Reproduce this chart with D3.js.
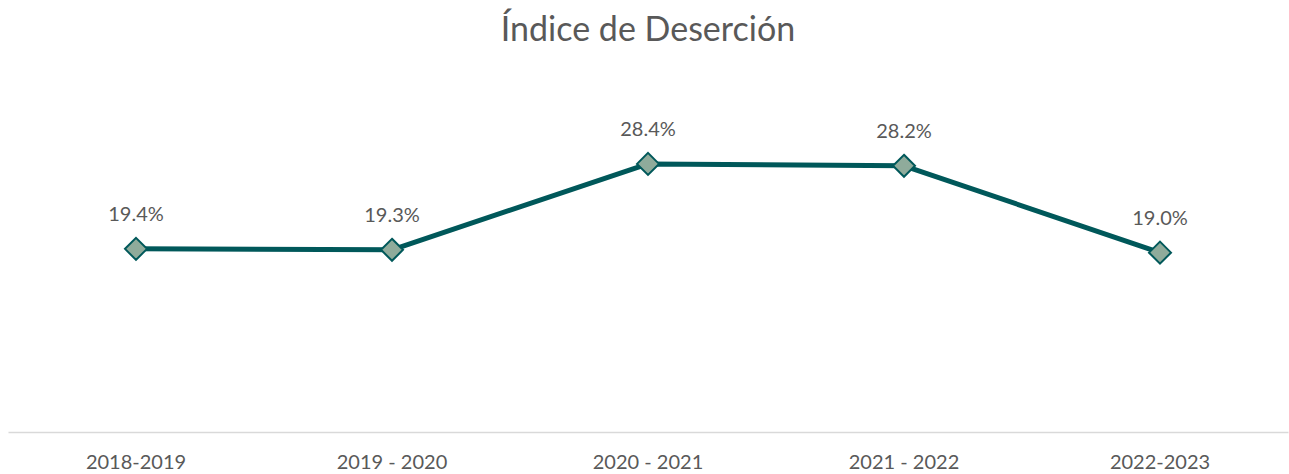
<!DOCTYPE html>
<html>
<head>
<meta charset="utf-8">
<script src="https://cdn.jsdelivr.net/npm/d3@7"></script>
<style>
  body { margin: 0; background: #fff; }
  text { font-family: Lato, "Open Sans", sans-serif; fill: #595959; }
</style>
</head>
<body>
<script>
// chart data
const periods = ["2018-2019", "2019 - 2020", "2020 - 2021", "2021 - 2022", "2022-2023"];
const rates = [19.4, 19.3, 28.4, 28.2, 19.0];
const yDomain = [0, 30];

const width = 1289;
const height = 474;
const axisY = 432;

const svg = d3.select("body").append("svg")
    .attr("width", width)
    .attr("height", height);

const x = d3.scaleBand()
    .domain(periods)
    .range([8, 1288]);

const y = d3.scaleLinear()
    .domain(yDomain)
    .range([axisY, axisY - 30 * 9.44]);

// title
svg.append("text")
    .attr("x", 648)
    .attr("y", 41)
    .attr("text-anchor", "middle")
    .style("font-size", "34px")
    .text("Índice de Deserción");

// x axis
const xAxis = svg.append("g")
    .attr("transform", `translate(0,${axisY})`)
    .call(d3.axisBottom(x).tickSize(0).tickPadding(23));
xAxis.select(".domain").attr("stroke", "#d9d9d9").attr("stroke-width", 1.5);
xAxis.selectAll(".tick text")
    .style("font-size", "20px")
    .style("font-family", "Lato, sans-serif")
    .style("fill", "#595959")
    .attr("dy", "0.71em");

const cx = d => x(d) + x.bandwidth() / 2;

// line
const line = d3.line()
    .x((d, i) => cx(periods[i]))
    .y(d => y(d));

svg.append("path")
    .datum(rates)
    .attr("d", line)
    .attr("fill", "none")
    .attr("stroke", "#00585a")
    .attr("stroke-width", 5)
    .attr("stroke-linejoin", "round");

// markers
svg.selectAll(".marker")
    .data(rates)
    .enter().append("path")
    .attr("class", "marker")
    .attr("transform", (d, i) => `translate(${cx(periods[i])},${y(d)})`)
    .attr("d", "M0,-11L11,0L0,11L-11,0Z")
    .attr("fill", "#8fab9b")
    .attr("stroke", "#00585a")
    .attr("stroke-width", 2);

// data labels
svg.selectAll(".label")
    .data(rates)
    .enter().append("text")
    .attr("class", "label")
    .attr("x", (d, i) => cx(periods[i]))
    .attr("y", d => y(d) - 28)
    .attr("text-anchor", "middle")
    .style("font-size", "20px")
    .text(d => d.toFixed(1) + "%");
</script>
</body>
</html>
